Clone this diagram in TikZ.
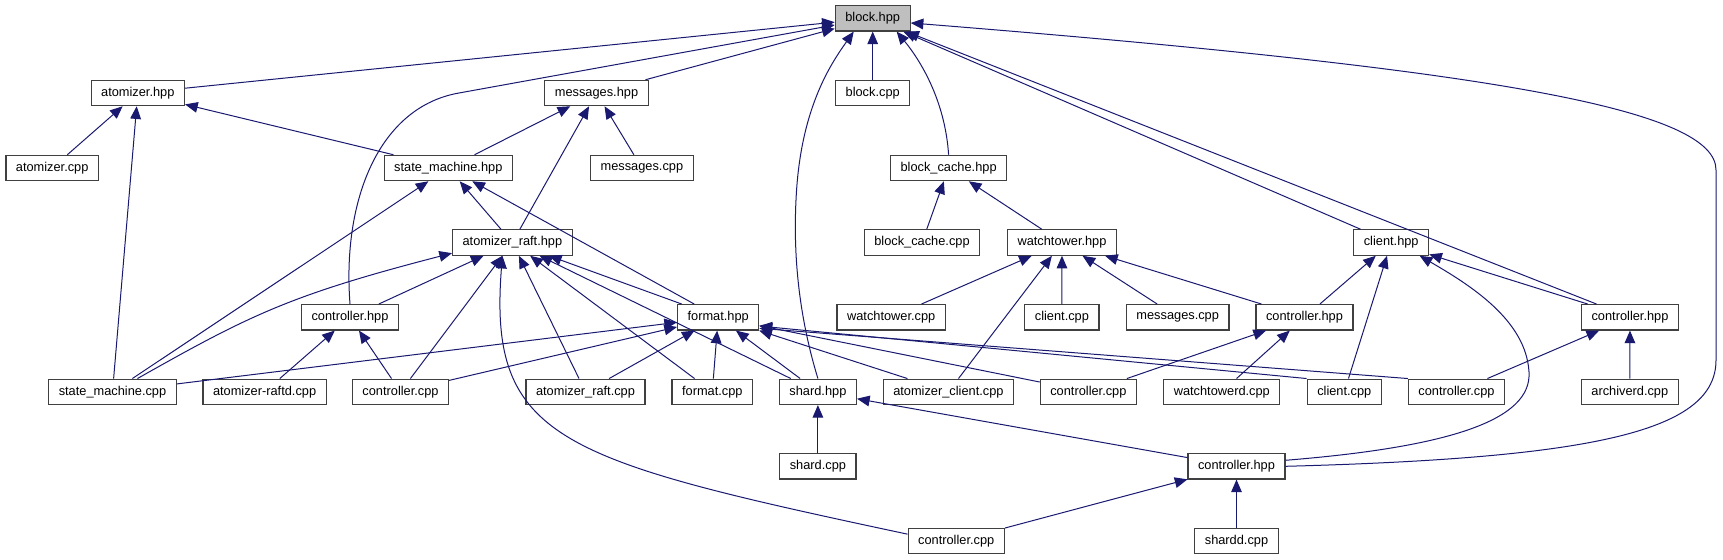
\documentclass[tikz,border=0pt]{standalone}
\usepackage{fontspec}
\setmainfont{Liberation Sans}
\usetikzlibrary{arrows.meta}
\definecolor{depblue}{HTML}{191970}
\definecolor{boxline}{HTML}{404040}
\definecolor{focusgray}{HTML}{BFBFBF}

\begin{document}
\begin{tikzpicture}[x=0.75pt,y=-0.75pt,font=\fontsize{9.6}{11}\selectfont]
  \tikzset{
    file/.style={draw=boxline,fill=white,line width=0.9pt,
      inner xsep=7.5pt,inner ysep=0pt,minimum height=19pt},
    focus/.style={file,fill=focusgray},
    dep/.style={-{Triangle[length=9.5pt,width=8pt]},line width=0.75pt,
      draw=depblue}
  }
  \useasboundingbox (0,0) rectangle (1723,560);

  % rank 0 and 1
  \node[focus] (blockhpp) at (872.7,18.3) {block.hpp};
  \node[file] (atomizerhpp) at (137.8,93) {atomizer.hpp};
  \node[file] (messageshpp) at (596.5,93) {messages.hpp};
  \node[file] (blockcpp) at (872.7,93) {block.cpp};

  % rank 2
  \node[file] (atomizercpp) at (52.2,168) {atomizer.cpp};
  \node[file] (smhpp) at (448.3,168) {state\_machine.hpp};
  \node[file] (messagescppA) at (641.9,168) {messages.cpp};
  \node[file] (bcachehpp) at (948.6,168) {block\_cache.hpp};

  % rank 3
  \node[file] (rafthpp) at (512.4,242.5) {atomizer\_raft.hpp};
  \node[file] (bcachecpp) at (922,242.5) {block\_cache.cpp};
  \node[file] (towerhpp) at (1062,242.5) {watchtower.hpp};
  \node[file] (clienthpp) at (1391.2,242.5) {client.hpp};

  % rank 4
  \node[file] (ctlhppA) at (350,317.3) {controller.hpp};
  \node[file] (formathpp) at (718.2,317.3) {format.hpp};
  \node[file] (towercpp) at (891.2,317.3) {watchtower.cpp};
  \node[file] (clientcppA) at (1061.9,317.3) {client.cpp};
  \node[file] (messagescppB) at (1177.7,317.3) {messages.cpp};
  \node[file] (ctlhppB) at (1304.5,317.3) {controller.hpp};
  \node[file] (ctlhppC) at (1630,317.3) {controller.hpp};

  % rank 5
  \node[file] (smcpp) at (112.5,391.8) {state\_machine.cpp};
  \node[file] (raftdcpp) at (264.6,391.8) {atomizer-raftd.cpp};
  \node[file] (ctlcppA) at (400.5,391.8) {controller.cpp};
  \node[file] (raftcpp) at (585.5,391.8) {atomizer\_raft.cpp};
  \node[file] (formatcpp) at (712.3,391.8) {format.cpp};
  \node[file] (shardhpp) at (817.9,391.8) {shard.hpp};
  \node[file] (aclientcpp) at (948.4,391.8) {atomizer\_client.cpp};
  \node[file] (ctlcppB) at (1088.4,391.8) {controller.cpp};
  \node[file] (towerdcpp) at (1221.8,391.8) {watchtowerd.cpp};
  \node[file] (clientcppB) at (1344.3,391.8) {client.cpp};
  \node[file] (ctlcppC) at (1456.5,391.8) {controller.cpp};
  \node[file] (archiverdcpp) at (1629.8,391.8) {archiverd.cpp};

  % rank 6 and 7
  \node[file] (shardcpp) at (817.9,466.3) {shard.cpp};
  \node[file] (ctlhppD) at (1236.5,466.3) {controller.hpp};
  \node[file] (ctlcppD) at (956.2,541) {controller.cpp};
  \node[file] (sharddcpp) at (1236.5,541) {shardd.cpp};

  % includes of block.hpp
  \draw[dep] (atomizerhpp) -- (blockhpp);
  \draw[dep] (messageshpp) -- (blockhpp);
  \draw[dep] (blockcpp) -- (blockhpp);
  \draw[dep] (clienthpp) -- (blockhpp);
  \draw[dep] (ctlhppC) -- (blockhpp);
  \draw[dep] (ctlhppA.north) .. controls (342,200) and (379,107) .. (459,93)
    -- (blockhpp.190);
  \draw[dep] (shardhpp.north) .. controls (800,320) and (793,260) .. (796,200)
    .. controls (800,110) and (830,65) .. (blockhpp.215);
  \draw[dep] (bcachehpp.north) .. controls (945,100) and (920,60)
    .. (blockhpp.-29);
  \draw[dep] (ctlhppD.east) .. controls (1600,458) and (1716,430) .. (1716,360)
    -- (1716,170) .. controls (1716,110) and (1500,70) .. (blockhpp.-7);

  \draw[dep] (atomizercpp) -- (atomizerhpp);
  \draw[dep] (smhpp) -- (atomizerhpp);
  \draw[dep] (smcpp) -- (atomizerhpp);
  \draw[dep] (smhpp) -- (messageshpp);
  \draw[dep] (rafthpp) -- (messageshpp);
  \draw[dep] (messagescppA) -- (messageshpp);

  \draw[dep] (smcpp) -- (smhpp);
  \draw[dep] (rafthpp) -- (smhpp);
  \draw[dep] (formathpp) -- (smhpp);
  \draw[dep] (bcachecpp) -- (bcachehpp);
  \draw[dep] (towerhpp) -- (bcachehpp);

  % includes of atomizer_raft.hpp
  \draw[dep] (smcpp.28) .. controls (250,315) and (290,295) .. (rafthpp.190);
  \draw[dep] (ctlhppA) -- (rafthpp);
  \draw[dep] (ctlcppA) -- (rafthpp);
  \draw[dep] (raftcpp) -- (rafthpp);
  \draw[dep] (formatcpp) -- (rafthpp);
  \draw[dep] (shardhpp) -- (rafthpp);
  \draw[dep] (formathpp) -- (rafthpp);
  \draw[dep] (ctlcppD.172) .. controls (560,460) and (488,440) .. (rafthpp.-127);

  % includes of format.hpp
  \draw[dep] (smcpp) -- (formathpp);
  \draw[dep] (ctlcppA) -- (formathpp);
  \draw[dep] (raftcpp) -- (formathpp);
  \draw[dep] (formatcpp) -- (formathpp);
  \draw[dep] (shardhpp) -- (formathpp);
  \draw[dep] (aclientcpp) -- (formathpp);
  \draw[dep] (ctlcppB) -- (formathpp);
  \draw[dep] (clientcppB.north west) -- (formathpp.-12);
  \draw[dep] (ctlcppC.north west) -- (formathpp.-15);

  \draw[dep] (raftdcpp) -- (ctlhppA);
  \draw[dep] (ctlcppA) -- (ctlhppA);

  \draw[dep] (towercpp) -- (towerhpp);
  \draw[dep] (aclientcpp) -- (towerhpp);
  \draw[dep] (clientcppA) -- (towerhpp);
  \draw[dep] (messagescppB) -- (towerhpp);
  \draw[dep] (ctlhppB) -- (towerhpp);

  \draw[dep] (ctlhppB) -- (clienthpp);
  \draw[dep] (clientcppB) -- (clienthpp);
  \draw[dep] (ctlhppC) -- (clienthpp);
  \draw[dep] (ctlhppD.7) .. controls (1450,447) and (1532,420) .. (1529,372)
    .. controls (1526,320) and (1470,285) .. (clienthpp.-25);

  \draw[dep] (ctlcppB) -- (ctlhppB);
  \draw[dep] (towerdcpp) -- (ctlhppB);
  \draw[dep] (ctlcppC) -- (ctlhppC);
  \draw[dep] (archiverdcpp) -- (ctlhppC);

  \draw[dep] (shardcpp) -- (shardhpp);
  \draw[dep] (ctlhppD) -- (shardhpp);
  \draw[dep] (ctlcppD) -- (ctlhppD);
  \draw[dep] (sharddcpp) -- (ctlhppD);
\end{tikzpicture}
\end{document}
